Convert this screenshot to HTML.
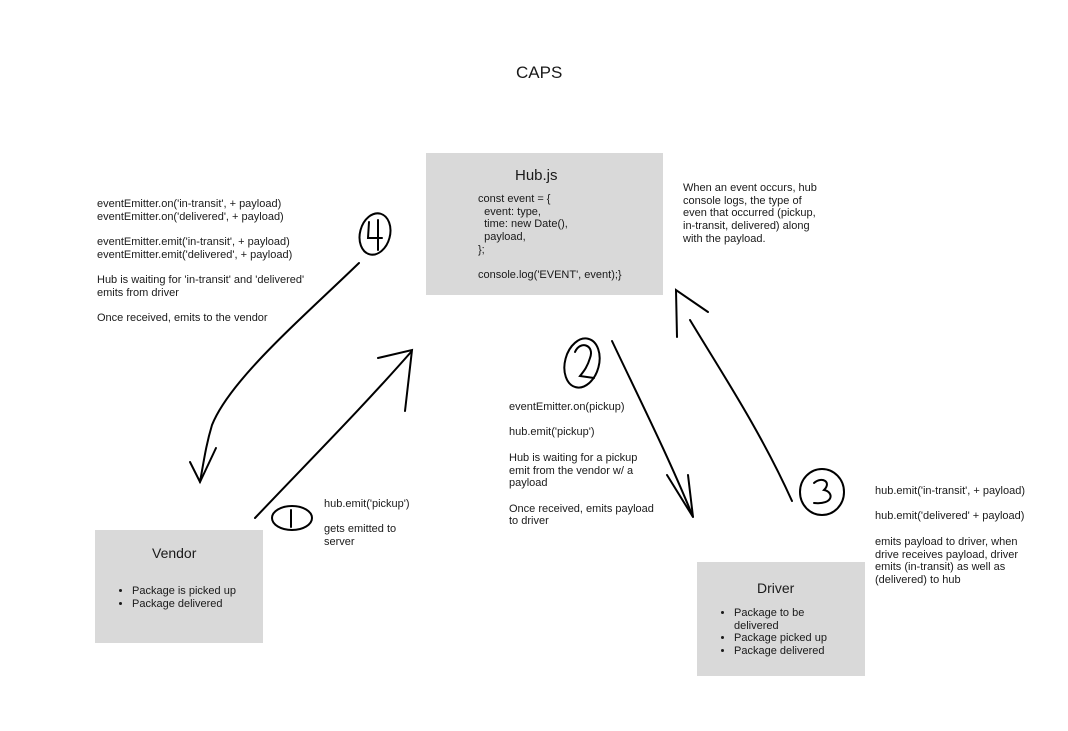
<!DOCTYPE html>
<html><head><style>
body{margin:0;width:1068px;height:731px;background:#fff;position:relative;font-family:"Liberation Sans",sans-serif;color:#1a1a1a;overflow:hidden}
.t{position:absolute;font-size:11px;line-height:12.7px;white-space:pre}
.box{position:absolute;background:#d9d9d9}
ul{margin:0;padding-left:16px}
</style></head><body>
<div class="t" style="left:516px;top:63px;font-size:17px;line-height:20px">CAPS</div>

<div class="box" style="left:426px;top:153px;width:237px;height:142px"></div>
<div class="t" style="left:515px;top:167px;font-size:15px;line-height:18px">Hub.js</div>
<div class="t" style="left:478px;top:193px">const event = {
  event: type,
  time: new Date(),
  payload,
};

console.log('EVENT', event);}</div>

<div class="box" style="left:95px;top:530px;width:168px;height:113px"></div>
<div class="t" style="left:152px;top:544px;font-size:14px;line-height:18px">Vendor</div>
<div class="t" style="left:116px;top:585px;white-space:normal;width:150px"><ul><li>Package is picked up</li><li>Package delivered</li></ul></div>

<div class="box" style="left:697px;top:562px;width:168px;height:114px"></div>
<div class="t" style="left:757px;top:579px;font-size:14px;line-height:18px">Driver</div>
<div class="t" style="left:718px;top:607px;white-space:normal;width:120px"><ul><li>Package to be delivered</li><li>Package picked up</li><li>Package delivered</li></ul></div>

<div class="t" style="left:97px;top:198px">eventEmitter.on('in-transit', + payload)
eventEmitter.on('delivered', + payload)

eventEmitter.emit('in-transit', + payload)
eventEmitter.emit('delivered', + payload)

Hub is waiting for 'in-transit' and 'delivered'
emits from driver

Once received, emits to the vendor</div>

<div class="t" style="left:683px;top:182px">When an event occurs, hub
console logs, the type of
even that occurred (pickup,
in-transit, delivered) along
with the payload.</div>

<div class="t" style="left:509px;top:401px">eventEmitter.on(pickup)

hub.emit('pickup')

Hub is waiting for a pickup
emit from the vendor w/ a
payload

Once received, emits payload
to driver</div>

<div class="t" style="left:875px;top:485px">hub.emit('in-transit', + payload)

hub.emit('delivered' + payload)

emits payload to driver, when
drive receives payload, driver
emits (in-transit) as well as
(delivered) to hub</div>

<div class="t" style="left:324px;top:498px">hub.emit('pickup')

gets emitted to
server</div>

<svg width="1068" height="731" style="position:absolute;left:0;top:0" fill="none" stroke="#000" stroke-width="2" stroke-linecap="round">
<path d="M359 263 C300 320 230 380 212 425 C206 445 204 460 200 482"/>
<path d="M190 462 L200 482 L216 448"/>
<path d="M255 518 C310 460 360 410 411 352"/>
<path d="M378 358 L412 350 L405 411"/>
<path d="M612 341 C640 400 670 460 693 517"/>
<path d="M667 475 L693 517 L688 475"/>
<path d="M792 501 C760 430 720 370 690 320"/>
<path d="M677 337 L676 290 L708 312"/>
<ellipse cx="375" cy="234" rx="15" ry="21" transform="rotate(15 375 234)"/>
<path d="M369 222 L368 238 L382 238 M378 220 L378 250"/>
<ellipse cx="582" cy="363" rx="17" ry="25" transform="rotate(15 582 363)"/>
<path d="M575 352 C580 340 595 345 590 358 C587 368 583 372 580 376 L594 378"/>
<ellipse cx="822" cy="492" rx="22" ry="23"/>
<path d="M814 483 C822 476 832 482 824 490 C834 492 834 505 814 503"/>
<ellipse cx="292" cy="518" rx="20" ry="12"/>
<path d="M291 510 L291 527"/>
</svg>
</body></html>
